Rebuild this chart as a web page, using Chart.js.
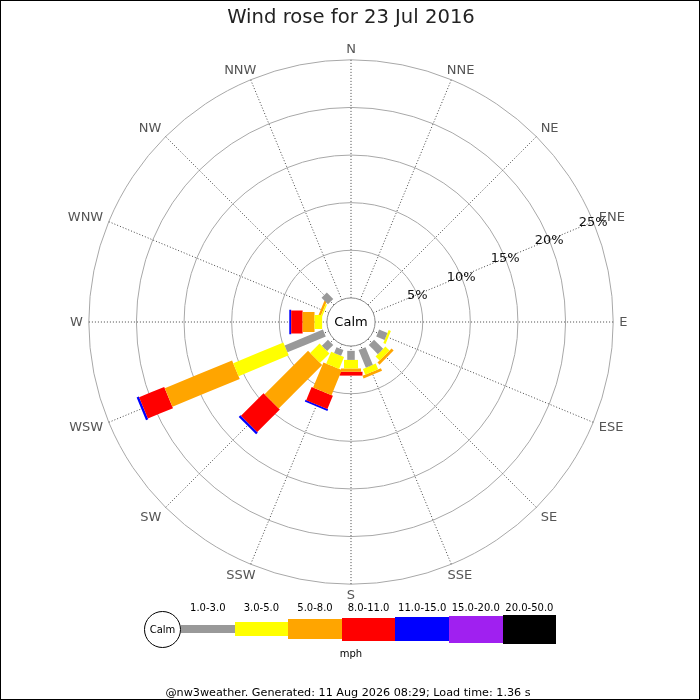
<!DOCTYPE html>
<html>
<head>
<meta charset="utf-8">
<title>Wind rose</title>
<script src="https://cdn.jsdelivr.net/npm/chart.js@4.4.0/dist/chart.umd.min.js"></script>
<style>
  html, body { margin: 0; padding: 0; background: #fff; }
  #wrap { position: relative; width: 700px; height: 700px; font-family: "DejaVu Sans", sans-serif; overflow: hidden; }
  #rose { position: absolute; left: 0; top: 0; }
  #frame { position: absolute; left: 0; top: 0; width: 700px; height: 700px; box-sizing: border-box; border: 1px solid #000; pointer-events: none; }
  #title { position: absolute; left: 0; top: 5px; width: 702px; text-align: center; font-size: 19.6px; line-height: 24px; color: #222; }
  .lg { position: absolute; }
  .lg-text { position: absolute; font-size: 10px; line-height: 12px; color: #000; text-align: center; white-space: nowrap; }
  #calmKey { position: absolute; box-sizing: border-box; border: 1px solid #000; border-radius: 50%; background: #fff;
             font-size: 10px; display: flex; align-items: center; justify-content: center; }
  #footer { position: absolute; left: 0; top: 686px; width: 696px; text-align: center; font-size: 11.2px; line-height: 13px; color: #000; white-space: nowrap; }
</style>
</head>
<body>
<div id="wrap">
  <canvas id="rose" width="700" height="700"></canvas>
  <div id="title">Wind rose for 23 Jul 2016</div>
  <div id="legend"></div>
  <div id="footer">@nw3weather. Generated: 11 Aug 2026 08:29; Load time: 1.36 s</div>
  <div id="frame"></div>
</div>
<script>
// compass points, clockwise from north
const directions = ['N', 'NNE', 'NE', 'ENE', 'E', 'ESE', 'SE', 'SSE',
                    'S', 'SSW', 'SW', 'WSW', 'W', 'WNW', 'NW', 'NNW'];
const speedBands = ['1.0-3.0', '3.0-5.0', '5.0-8.0', '8.0-11.0', '11.0-15.0', '15.0-20.0', '20.0-50.0'];
const speedUnit = 'mph';

// % of time per direction for each speed band (mph)
//                  N  NNE NE ENE  E   ESE   SE    SSE   S     SSW   SW    WSW   W     WNW   NW    NNW
const speed1to3   = [0, 0, 0, 0, 0, 0.95, 1.35, 2.0,  0.95, 0.65, 0.9,  4.35, 0,    0,    0.95, 0];
const speed3to5   = [0, 0, 0, 0, 0, 0.25, 0.6,  0.65, 0.9,  1.35, 1.4,  5.7,  0.8,  0.15, 0,    0];
const speed5to8   = [0, 0, 0, 0, 0, 0,    0.3,  0.3,  0.35, 2.85, 6.45, 7.65, 1.25, 0.25, 0,    0];
const speed8to11  = [0, 0, 0, 0, 0, 0,    0,    0,    0.4,  1.5,  3.35, 2.85, 1.2,  0,    0,    0];
const speed11to15 = [0, 0, 0, 0, 0, 0,    0,    0,    0,    0.2,  0.25, 0.25, 0.2,  0,    0,    0];
const speed15to20 = [0, 0, 0, 0, 0, 0,    0,    0,    0,    0,    0,    0,    0,    0,    0,    0];
const speed20to50 = [0, 0, 0, 0, 0, 0,    0,    0,    0,    0,    0,    0,    0,    0,    0,    0];

const ringTicks = [5, 10, 15, 20, 25];
const calmLabel = 'Calm';

const bands = [speed1to3, speed3to5, speed5to8, speed8to11, speed11to15, speed15to20, speed20to50];
const bandColors = ['#999999', '#ffff00', '#ffa500', '#ff0000', '#0000ff', '#a020f0', '#000000'];
const bandWeights = [7.5, 14, 20, 23, 24.5, 27, 29];

// geometry in % units (the axes are in %)
const CALM_R = 2.53;   // radius of the calm circle
const BAR_GAP = 0.5;   // gap between calm circle and start of bars
const HALF = 31.5;     // half range of the x/y axes
const LABEL_AXIS = 3;  // ring labels sit on the ENE spoke

function dirAngle(i) {
  return i * 2 * Math.PI / directions.length;
}
function polar(r, i) {
  const a = dirAngle(i);
  return { x: r * Math.sin(a), y: r * Math.cos(a) };
}

// how a compass label box hangs off its anchor point (0..1 of width / height)
function labelAlign(i) {
  const a = ((90 - i * 360 / directions.length) % 360 + 360) % 360; // maths angle, degrees
  let fx, fy;
  if (a <= 45 || a >= 315) fx = 0;
  else if (a < 135) fx = (a - 45) / 90;
  else if (a <= 225) fx = 1;
  else fx = 1 - (a - 225) / 90;
  if (a <= 45) fy = 0.5 + a / 90;
  else if (a <= 135) fy = 1;
  else if (a <= 225) fy = 1 - (a - 135) / 90;
  else if (a <= 315) fy = 0;
  else fy = (a - 315) / 90;
  return { fx, fy };
}

// each piece of a bar is its own 2-point line, stacked outwards band by band
const datasets = [];
bands.forEach((vals, b) => {
  directions.forEach((d, i) => {
    if (!(vals[i] > 0)) return;
    let start = CALM_R + BAR_GAP;
    for (let k = 0; k < b; k++) start += bands[k][i];
    datasets.push({
      label: speedBands[b] + ' ' + d,
      data: [polar(start, i), polar(start + vals[i], i)],
      showLine: true,
      borderColor: bandColors[b],
      backgroundColor: bandColors[b],
      borderWidth: bandWeights[b],
      borderCapStyle: 'butt',
      pointRadius: 0,
      pointHoverRadius: 0,
      fill: false,
      tension: 0.001
    });
  });
});

// rings, spokes, compass labels and the calm circle
const roseFrame = {
  id: 'roseFrame',
  beforeDatasetsDraw(chart) {
    const { ctx, scales: { x, y } } = chart;
    const cx = x.getPixelForValue(0), cy = y.getPixelForValue(0);
    const px = v => x.getPixelForValue(v) - cx;
    const outer = px(CALM_R + ringTicks[ringTicks.length - 1]);
    ctx.save();
    ctx.strokeStyle = '#a8a8a8';
    ctx.lineWidth = 1;
    ringTicks.forEach(t => {
      ctx.beginPath();
      ctx.arc(cx, cy, px(CALM_R + t), 0, Math.PI * 2);
      ctx.stroke();
    });
    ctx.setLineDash([1, 2]);
    ctx.strokeStyle = '#444';
    directions.forEach((d, i) => {
      const a = dirAngle(i);
      const r0 = px(CALM_R);
      ctx.beginPath();
      ctx.moveTo(cx + r0 * Math.sin(a), cy - r0 * Math.cos(a));
      ctx.lineTo(cx + outer * Math.sin(a), cy - outer * Math.cos(a));
      ctx.stroke();
    });
    ctx.setLineDash([]);
    // compass point labels
    ctx.font = '13px "DejaVu Sans"';
    ctx.fillStyle = '#555';
    ctx.textAlign = 'center';
    ctx.textBaseline = 'middle';
    const capH = 9.6;
    directions.forEach((d, i) => {
      const a = dirAngle(i);
      const w = ctx.measureText(d).width;
      const { fx, fy } = labelAlign(i);
      const ax = cx + (outer + 6) * Math.sin(a);
      const ay = cy - (outer + 6) * Math.cos(a);
      ctx.fillText(d, ax + (0.5 - fx) * w, ay + (0.5 - fy) * capH + 1);
    });
    ctx.restore();
  },
  afterDatasetsDraw(chart) {
    const { ctx, scales: { x, y } } = chart;
    const cx = x.getPixelForValue(0), cy = y.getPixelForValue(0);
    const px = v => x.getPixelForValue(v) - cx;
    ctx.save();
    // ring percentage labels
    ctx.font = '13px "DejaVu Sans"';
    ctx.fillStyle = '#111';
    ctx.textAlign = 'center';
    ctx.textBaseline = 'middle';
    const a = dirAngle(LABEL_AXIS);
    ringTicks.forEach(t => {
      const r = px(CALM_R + t);
      ctx.fillText(t + '%', cx + r * Math.sin(a), cy - r * Math.cos(a) + 1);
    });
    // calm circle
    ctx.beginPath();
    ctx.arc(cx, cy, px(CALM_R), 0, Math.PI * 2);
    ctx.fillStyle = '#fff';
    ctx.fill();
    ctx.strokeStyle = '#8a8a8a';
    ctx.lineWidth = 1;
    ctx.stroke();
    ctx.fillStyle = '#000';
    ctx.fillText(calmLabel, cx, cy + 1);
    ctx.restore();
  }
};

new Chart(document.getElementById('rose'), {
  type: 'scatter',
  data: { datasets: datasets },
  options: {
    responsive: false,
    animation: false,
    events: [],
    layout: { padding: { left: 51, right: 49, top: 22, bottom: 78 } },
    scales: {
      x: { type: 'linear', min: -HALF, max: HALF, display: false },
      y: { type: 'linear', min: -HALF, max: HALF, display: false }
    },
    plugins: {
      legend: { display: false },
      tooltip: { enabled: false },
      title: { display: false }
    }
  },
  plugins: [roseFrame]
});

// speed legend below the rose
const legend = document.getElementById('legend');
const keyX = 181, keyW = 53.6, keyMid = 629.2;
const calmKey = document.createElement('div');
calmKey.id = 'calmKey';
calmKey.style.left = '144px';
calmKey.style.top = (keyMid - 18) + 'px';
calmKey.style.width = '37px';
calmKey.style.height = '37px';
calmKey.textContent = calmLabel;
legend.appendChild(calmKey);
speedBands.forEach((lab, b) => {
  const bar = document.createElement('div');
  bar.className = 'lg';
  bar.style.left = (keyX + b * keyW) + 'px';
  bar.style.width = keyW + 'px';
  bar.style.height = bandWeights[b] + 'px';
  bar.style.top = (keyMid - bandWeights[b] / 2) + 'px';
  bar.style.background = bandColors[b];
  legend.appendChild(bar);
  const t = document.createElement('div');
  t.className = 'lg-text';
  t.style.left = (keyX + b * keyW) + 'px';
  t.style.width = keyW + 'px';
  t.style.top = '601.5px';
  t.textContent = lab;
  legend.appendChild(t);
});
const unit = document.createElement('div');
unit.className = 'lg-text';
unit.style.left = '301px';
unit.style.width = '100px';
unit.style.top = '648px';
unit.textContent = speedUnit;
legend.appendChild(unit);
</script>
</body>
</html>
